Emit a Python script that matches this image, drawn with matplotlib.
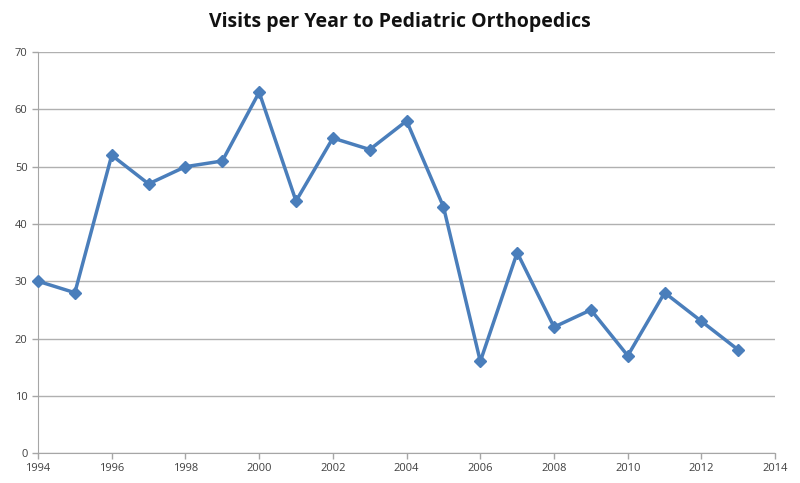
import matplotlib.pyplot as plt

years = [1994, 1995, 1996, 1997, 1998, 1999, 2000, 2001, 2002, 2003,
         2004, 2005, 2006, 2007, 2008, 2009, 2010, 2011, 2012, 2013]
visits = [30, 28, 52, 47, 50, 51, 63, 44, 55, 53,
          58, 43, 16, 35, 22, 25, 17, 28, 23, 18]
x_ticks = list(range(1994, 2015, 2))
y_ticks = list(range(0, 71, 10))

plt.rcParams['font.family'] = ['Open Sans', 'DejaVu Sans']

fig = plt.figure(figsize=(8, 4.83), dpi=100)
ax = fig.add_axes([0.0475, 0.062, 0.9215, 0.830])

# gridlines horizontales
ax.set_axisbelow(True)
ax.yaxis.grid(True, color='#b0b0b0', linewidth=1)

ax.plot(years, visits, color='#4a7ebb', linewidth=2.5,
        marker='D', markersize=6, markerfacecolor='#4a7ebb',
        markeredgecolor='#4a7ebb', clip_on=False, zorder=3)

ax.set_xlim(1994, 2014)
ax.set_ylim(0, 70)
ax.set_xticks(x_ticks)
ax.set_yticks(y_ticks)
ax.tick_params(axis='both', labelsize=8, colors='#a6a6a6',
               labelcolor='#404040', length=4, width=1)

for side in ['top', 'right']:
    ax.spines[side].set_visible(False)
for side in ['left', 'bottom']:
    ax.spines[side].set_color('#a6a6a6')

fig.text(0.5, 0.955, "Visits per Year to Pediatric Orthopedics",
         ha='center', va='center', fontsize=14, fontweight='bold',
         color='#111111')

plt.savefig('out.png', dpi=100)
